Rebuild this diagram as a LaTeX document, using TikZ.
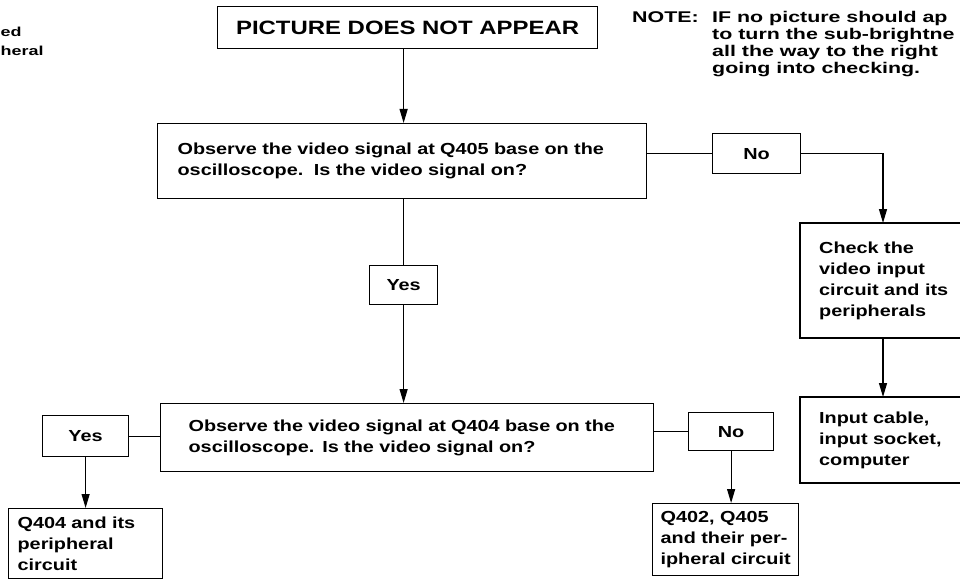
\documentclass[tikz,border=0pt]{standalone}
\usepackage{fontspec}
\setmainfont{Liberation Sans}[FakeStretch=1.24]
\newfontfamily\notefont{Liberation Sans}[FakeStretch=1.38]
\usetikzlibrary{arrows.meta}
\begin{document}
\begin{tikzpicture}[x=1pt,y=-1pt,
  every node/.style={font=\bfseries\fontsize{16}{21}\selectfont, inner sep=0pt},
  box/.style={draw, line width=1.2pt, rectangle, anchor=north west, align=left},
  lbl/.style={draw, line width=1.2pt, rectangle, anchor=north west, align=center},
  conn/.style={line width=1.2pt},
  arr/.style={conn, -{Triangle[length=14pt,width=8pt]}},
  note/.style={font=\notefont\bfseries\fontsize{15.5}{17}\selectfont, align=left},
  side/.style={font=\notefont\bfseries\fontsize{13}{17}\selectfont, align=left}
]
\useasboundingbox (0,0) rectangle (960,580);

% text at the top left
\node[side, anchor=west] (edtxt) at (0.5,32) {ed};
\node[side, anchor=west] (heraltxt) at (0.5,51) {heral};

% title
\node[lbl, font=\bfseries\fontsize{19.3}{24}\selectfont, minimum width=380pt, minimum height=42pt] (t) at (217,6) {PICTURE DOES NOT APPEAR};

% note
\node[note, anchor=north west] (notelbl) at (632,11) {NOTE:};
\node[note, anchor=north west] (notetxt) at (712,11) {IF no picture should ap\\to turn the sub-brightne\\all the way to the right\\going into checking.};

% first question
\node[box, minimum width=489pt, minimum height=75pt, text width=449pt, inner xsep=20pt] (q1) at (157,123)
  {Observe the video signal at Q405 base on the\\oscilloscope.\ \ Is the video signal on?};
\node[lbl, minimum width=68pt, minimum height=39pt] (yes1) at (369,265) {Yes};
\node[lbl, minimum width=88pt, minimum height=40pt] (no1) at (712,133) {No};

% right column (boxes cut by the right edge)
\coordinate (cx) at (883,0);
\coordinate (chkNW) at (800,223);
\coordinate (chkSE) at (960,338);
\node[anchor=west, align=left] (chk) at (819,281) {Check the\\video input\\circuit and its\\peripherals};
\draw[conn] (chkNW -| chkSE) -- (chkNW) -- (chkNW |- chkSE) -- (chkSE);
\coordinate (inpNW) at (800,397);
\coordinate (inpSE) at (960,483);
\node[anchor=west, align=left] (inp) at (819,440) {Input cable,\\input socket,\\computer};
\draw[conn] (inpNW -| inpSE) -- (inpNW) -- (inpNW |- inpSE) -- (inpSE);

% second question
\node[box, minimum width=493pt, minimum height=68pt, text width=437pt, inner xsep=28pt] (q2) at (160,403)
  {Observe the video signal at Q404 base on the\\oscilloscope. Is the video signal on?};
\node[lbl, minimum width=86pt, minimum height=41pt] (yes2) at (42,415) {Yes};
\node[lbl, minimum width=85pt, minimum height=38pt] (no2) at (688,412) {No};

% results
\node[box, minimum width=154pt, minimum height=70pt, text width=136pt, inner xsep=9pt] (q404) at (8,508)
  {Q404 and its\\peripheral\\circuit};
\node[box, minimum width=143pt, minimum height=72pt, inner xsep=8pt] (q402) at (652,503)
  {Q402, Q405\\and their per-\\ipheral circuit};

% connectors
\draw[arr] (t.south -| yes1.center) -- (q1.north -| yes1.center);
\draw[conn] (q1.south -| yes1.center) -- (yes1.north);
\draw[arr] (yes1.south) -- (q2.north -| yes1.center);
\draw[conn] (q1.east |- no1.west) -- (no1.west);
\draw[arr] (no1.east) -| (cx |- chkNW);
\draw[arr] (cx |- chkSE) -- (cx |- inpNW);
\draw[conn] (yes2.east) -- (yes2.east -| q2.west);
\draw[arr] (yes2.south) -- (yes2.south |- q404.north);
\draw[conn] (q2.east |- no2.west) -- (no2.west);
\draw[arr] (no2.south) -- (no2.south |- q402.north);
\end{tikzpicture}
\end{document}
